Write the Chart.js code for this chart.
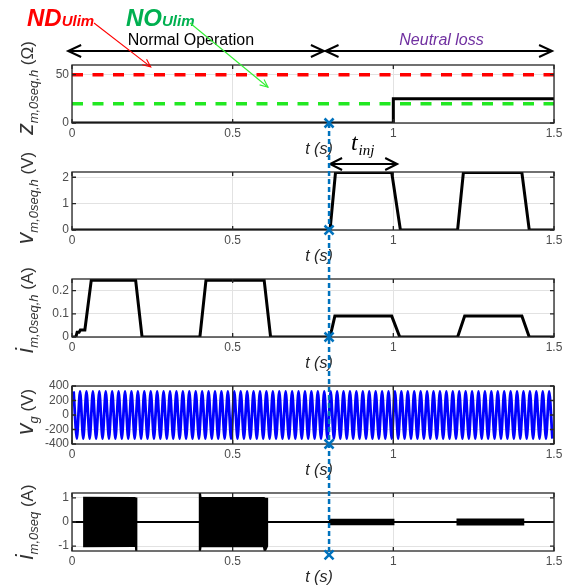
<!DOCTYPE html>
<html>
<head>
<meta charset="utf-8">
<script src="https://cdn.jsdelivr.net/npm/chart.js@4.4.0/dist/chart.umd.min.js"></script>
<style>
  body { margin: 0; background: #fff; width: 572px; height: 587px; position: relative; overflow: hidden; }
  canvas { position: absolute; left: 0; }
</style>
</head>
<body>
<canvas id="c0" width="572" height="163" style="top:0px"></canvas>
<canvas id="c1" width="572" height="118" style="top:152px"></canvas>
<canvas id="c2" width="572" height="118" style="top:259px"></canvas>
<canvas id="c3" width="572" height="118" style="top:366px"></canvas>
<canvas id="c4" width="572" height="118" style="top:473px"></canvas>
<canvas id="overlay" width="572" height="587" style="top:0px"></canvas>
<script>
// time axis
const tTicks = [0, 0.5, 1, 1.5];
const tTickLabels = ['0', '0.5', '1', '1.5'];
const tFault = 0.8;

// z_m,0seq,h (ohm)
const zTime = [0, 1.0, 1.0, 1.5];
const zValue = [0, 0, 25, 25];
const ndUlim = 50;
const noUlim = 20;
const zTicks = [0, 50];
const zTickLabels = ['0', '50'];

// v_m,0seq,h (V)
const vTime = [0, 0.803, 0.82, 0.995, 1.022, 1.2, 1.218, 1.4, 1.423, 1.5];
const vValue = [0, 0, 2.18, 2.18, 0, 0, 2.18, 2.18, 0, 0];
const vTicks = [0, 1, 2];
const vTickLabels = ['0', '1', '2'];

// i_m,0seq,h (A)
const iTime = [0, 0.012, 0.016, 0.022, 0.026, 0.04, 0.06, 0.198, 0.218, 0.398, 0.417, 0.598, 0.618,
               0.803, 0.818, 0.995, 1.02, 1.2, 1.222, 1.4, 1.423, 1.5];
const iValue = [0, 0, 0.02, 0.02, 0.03, 0.03, 0.245, 0.245, 0, 0, 0.245, 0.245, 0,
                0, 0.09, 0.09, 0, 0, 0.09, 0.09, 0, 0];
const iTicks = [0, 0.1, 0.2];
const iTickLabels = ['0', '0.1', '0.2'];

// v_g (V): half-cycle peaks of the grid voltage, one every 10 ms
const vgHalfPeriod = 0.01;
const vgPeaks = [
  325, -325, 325, -325, 325, -325, 325, -325, 325, -325,
  325, -325, 325, -325, 325, -325, 325, -325, 325, -325,
  325, -325, 325, -325, 325, -325, 325, -325, 325, -325,
  325, -325, 325, -325, 325, -325, 325, -325, 325, -325,
  325, -325, 325, -325, 325, -325, 325, -325, 325, -325,
  325, -325, 325, -325, 325, -325, 325, -325, 325, -325,
  325, -325, 325, -325, 325, -325, 325, -325, 325, -325,
  325, -325, 325, -325, 325, -325, 325, -325, 325, -325,
  325, -325, 325, -325, 325, -325, 325, -325, 325, -325,
  325, -325, 325, -325, 325, -325, 325, -325, 325, -325,
  325, -325, 325, -325, 325, -325, 325, -325, 325, -325,
  325, -325, 325, -325, 325, -325, 325, -325, 325, -325,
  325, -325, 325, -325, 325, -325, 325, -325, 325, -325,
  325, -325, 325, -325, 325, -325, 325, -325, 325, -325,
  325, -325, 325, -325, 325, -325, 325, -325, 325, -325
];
const vgTicks = [-400, -200, 0, 200, 400];
const vgTickLabels = ['-400', '-200', '0', '200', '400'];

// i_m,0seq (A): envelope of the fast oscillation
const imTime  = [0, 0.038, 0.038, 0.195, 0.199, 0.2, 0.2, 0.398, 0.398, 0.4, 0.597, 0.6, 0.607, 0.607,
                 0.803, 0.803, 1.0, 1.0, 1.2, 1.2, 1.404, 1.404, 1.5];
const imUpper = [0, 0, 1.0, 0.99, 0.97, 0.97, 0, 0, 1.2, 1.0, 0.99, 0.97, 0.96, 0,
                 0, 0.09, 0.09, 0, 0, 0.1, 0.1, 0, 0];
const imLower = [0, 0, -1.0, -0.99, -0.99, -1.2, 0, 0, -1.2, -1.0, -0.99, -1.2, -0.99, 0,
                 0, -0.09, -0.09, 0, 0, -0.1, -0.1, 0, 0];
const imTicks = [-1, 0, 1];
const imTickLabels = ['-1', '0', '1'];

// fault markers (y value where the X sits on each panel)
const markerValues = [0, 0, 0, -400, -1.36];

const sans = '"Liberation Sans", Arial, Helvetica, sans-serif';
const serif = '"Liberation Serif", "Times New Roman", serif';
const canvasTops = [0, 152, 259, 366, 473];

function points(xs, ys) {
  return xs.map((x, k) => ({ x: x, y: ys[k] }));
}

function lineSet(data, color, width, extra) {
  return Object.assign({
    data: data, borderColor: color, borderWidth: width,
    pointRadius: 0, fill: false, tension: 0
  }, extra || {});
}

const framePlugin = {
  id: 'frame',
  afterDraw(chart, args, opts) {
    const ctx = chart.ctx;
    const a = chart.chartArea;
    const x = chart.scales.x, y = chart.scales.y;
    ctx.save();
    if (opts.darkGrid) {
      ctx.strokeStyle = '#2a2a2a';
      ctx.lineWidth = 1.2;
      ctx.beginPath();
      x.ticks.forEach(t => {
        const p = x.getPixelForValue(t.value);
        ctx.moveTo(p, a.top); ctx.lineTo(p, a.bottom);
      });
      ctx.stroke();
    }
    ctx.strokeStyle = '#262626';
    ctx.lineWidth = 1.3;
    ctx.strokeRect(a.left, a.top, a.width, a.height);
    ctx.beginPath();
    x.ticks.forEach(t => {
      const p = x.getPixelForValue(t.value);
      ctx.moveTo(p, a.bottom); ctx.lineTo(p, a.bottom - 4);
      ctx.moveTo(p, a.top); ctx.lineTo(p, a.top + 4);
    });
    y.ticks.forEach(t => {
      const p = y.getPixelForValue(t.value);
      ctx.moveTo(a.left, p); ctx.lineTo(a.left + 4, p);
      ctx.moveTo(a.right, p); ctx.lineTo(a.right - 4, p);
    });
    ctx.stroke();

    // x title
    ctx.fillStyle = '#262626';
    ctx.font = 'italic 16px ' + sans;
    ctx.textAlign = 'center';
    ctx.textBaseline = 'middle';
    ctx.fillText('t (s)', (a.left + a.right) / 2 + 6, a.bottom + 27);

    // y title with subscript, rotated
    const parts = opts.title;
    const sizes = { main: 23, sub: 13, unit: 17 };
    const shift = { main: 0, sub: 5, unit: 0 };
    ctx.fillStyle = '#333333';
    ctx.textAlign = 'left';
    ctx.textBaseline = 'alphabetic';
    let total = 0;
    parts.forEach(p => {
      ctx.font = (p[1] === 'unit' ? '' : 'italic ') + sizes[p[1]] + 'px ' + sans;
      total += ctx.measureText(p[0]).width;
    });
    ctx.translate(33, (a.top + a.bottom) / 2 + (opts.titleShift || 0));
    ctx.rotate(-Math.PI / 2);
    let pos = -total / 2;
    parts.forEach(p => {
      ctx.font = (p[1] === 'unit' ? '' : 'italic ') + sizes[p[1]] + 'px ' + sans;
      ctx.fillText(p[0], pos, shift[p[1]]);
      pos += ctx.measureText(p[0]).width;
    });
    ctx.restore();
  }
};

function makeChart(index, datasets, yMin, yMax, yTicks, yTickLabels, frame) {
  const padTop = index === 0 ? 65 : 20;
  return new Chart(document.getElementById('c' + index), {
    type: 'line',
    data: { datasets: datasets },
    options: {
      responsive: false,
      animation: false,
      events: [],
      layout: { padding: { top: padTop, right: 18, bottom: 24, left: 0 } },
      plugins: { legend: { display: false }, tooltip: { enabled: false }, frame: frame },
      scales: {
        x: {
          type: 'linear', min: 0, max: 1.5,
          afterBuildTicks: s => { s.ticks = tTicks.map(v => ({ value: v })); },
          afterFit: s => { s.height = 16; },
          ticks: {
            callback: v => tTickLabels[tTicks.indexOf(v)],
            font: { family: sans, size: 12 }, color: '#4d4d4d',
            padding: 3, maxRotation: 0, autoSkip: false
          },
          grid: { color: '#e2e2e2', drawTicks: false },
          border: { display: false }
        },
        y: {
          type: 'linear', min: yMin, max: yMax,
          afterBuildTicks: s => { s.ticks = yTicks.map(v => ({ value: v })); },
          afterFit: s => { s.width = 72; },
          ticks: {
            callback: v => yTickLabels[yTicks.indexOf(v)],
            font: { family: sans, size: 12 }, color: '#4d4d4d',
            padding: 3, autoSkip: false
          },
          grid: { color: '#e2e2e2', drawTicks: false },
          border: { display: false }
        }
      }
    },
    plugins: [framePlugin]
  });
}

const vgTime = vgPeaks.map((v, k) => vgHalfPeriod / 2 + k * vgHalfPeriod);

const charts = [
  makeChart(0, [
    lineSet(points([0, 1.5], [ndUlim, ndUlim]), '#ff0000', 3.5, { borderDash: [11, 9.5] }),
    lineSet(points([0, 1.5], [noUlim, noUlim]), '#22e822', 3.5, { borderDash: [11, 9.5] }),
    lineSet(points(zTime, zValue), '#000000', 3)
  ], 0, 60, zTicks, zTickLabels,
    { title: [['z', 'main'], ['m,0seq,h', 'sub'], [' (\u03A9)', 'unit']], titleShift: -6 }),
  makeChart(1, [
    lineSet(points(vTime, vValue), '#000000', 3)
  ], 0, 2.2, vTicks, vTickLabels,
    { title: [['v', 'main'], ['m,0seq,h', 'sub'], [' (V)', 'unit']], titleShift: -3 }),
  makeChart(2, [
    lineSet(points(iTime, iValue), '#000000', 3)
  ], 0, 0.25, iTicks, iTickLabels,
    { title: [['i', 'main'], ['m,0seq,h', 'sub'], [' (A)', 'unit']], titleShift: 2 }),
  makeChart(3, [
    lineSet(points(vgTime, vgPeaks), '#0000ff', 2.8, { tension: 0.25 })
  ], -400, 400, vgTicks, vgTickLabels,
    { title: [['v', 'main'], ['g', 'sub'], [' (V)', 'unit']], titleShift: -3, darkGrid: true }),
  makeChart(4, [
    lineSet(points(imTime, imUpper), '#000000', 2.2, { fill: '+1', backgroundColor: '#000000' }),
    lineSet(points(imTime, imLower), '#000000', 2.2)
  ], -1.2, 1.2, imTicks, imTickLabels,
    { title: [['i', 'main'], ['m,0seq', 'sub'], [' (A)', 'unit']], titleShift: 0 })
];

function chevron(ctx, tipX, tipY, angle, len, half) {
  const c = Math.cos(angle), s = Math.sin(angle);
  ctx.beginPath();
  ctx.moveTo(tipX - len * c + half * s, tipY - len * s - half * c);
  ctx.lineTo(tipX, tipY);
  ctx.lineTo(tipX - len * c - half * s, tipY - len * s + half * c);
  ctx.stroke();
}

function arrow(ctx, x0, y0, x1, y1, both, len, half) {
  ctx.beginPath();
  ctx.moveTo(x0, y0);
  ctx.lineTo(x1, y1);
  ctx.stroke();
  const ang = Math.atan2(y1 - y0, x1 - x0);
  chevron(ctx, x1, y1, ang, len, half);
  if (both) chevron(ctx, x0, y0, ang + Math.PI, len, half);
}

function drawOverlay() {
  const ctx = document.getElementById('overlay').getContext('2d');
  const xs = charts[0].scales.x;
  const X = v => xs.getPixelForValue(v);
  const Y = (i, v) => canvasTops[i] + charts[i].scales.y.getPixelForValue(v);
  const top1 = canvasTops[0] + charts[0].chartArea.top;
  const top2 = canvasTops[1] + charts[1].chartArea.top;

  ctx.lineCap = 'butt';
  ctx.lineJoin = 'miter';

  // phase arrows
  ctx.strokeStyle = '#000';
  ctx.lineWidth = 2;
  arrow(ctx, X(-0.012), top1 - 14, X(0.784), top1 - 14, true, 13, 6);
  arrow(ctx, X(0.789), top1 - 14, X(1.494), top1 - 14, true, 13, 6);

  ctx.textAlign = 'center';
  ctx.textBaseline = 'middle';
  ctx.fillStyle = '#000';
  ctx.font = '16px ' + sans;
  ctx.fillText('Normal Operation', X(0.37), top1 - 24);
  ctx.fillStyle = '#7030a0';
  ctx.font = 'italic 16px ' + sans;
  ctx.fillText('Neutral loss', X(1.15), top1 - 24);

  // threshold labels
  ctx.textAlign = 'left';
  ctx.textBaseline = 'alphabetic';
  ctx.fillStyle = '#ff0000';
  ctx.font = 'italic bold 24px ' + sans;
  ctx.fillText('ND', 27, 26);
  let w = ctx.measureText('ND').width;
  ctx.font = 'italic bold 15px ' + sans;
  ctx.fillText('Ulim', 27 + w, 26);
  ctx.fillStyle = '#00b050';
  ctx.font = 'italic bold 24px ' + sans;
  ctx.fillText('NO', 126, 26);
  w = ctx.measureText('NO').width;
  ctx.font = 'italic bold 15px ' + sans;
  ctx.fillText('Ulim', 126 + w, 26);

  ctx.lineWidth = 1.1;
  ctx.strokeStyle = '#ff0000';
  arrow(ctx, 94, 23, X(0.245), Y(0, 58), false, 8, 3.5);
  ctx.strokeStyle = '#33ee33';
  arrow(ctx, 190, 23, X(0.61), Y(0, 37), false, 8, 3.5);

  // injection time
  ctx.strokeStyle = '#000';
  ctx.lineWidth = 2;
  arrow(ctx, X(tFault) + 1, top2 - 8, X(1.012), top2 - 8, true, 12, 6);
  ctx.fillStyle = '#000';
  ctx.font = 'italic 24px ' + serif;
  ctx.fillText('t', X(0.868), top2 - 22);
  w = ctx.measureText('t').width;
  ctx.font = 'italic 15px ' + serif;
  ctx.fillText('inj', X(0.868) + w + 1, top2 - 17);

  // fault instant
  const fx = X(tFault);
  ctx.strokeStyle = '#0072bd';
  ctx.lineWidth = 2.5;
  ctx.setLineDash([5, 3]);
  ctx.beginPath();
  ctx.moveTo(fx, Y(0, markerValues[0]));
  ctx.lineTo(fx, Y(4, markerValues[4]));
  ctx.stroke();
  ctx.setLineDash([]);
  ctx.lineWidth = 2.5;
  markerValues.forEach((v, i) => {
    const my = Y(i, v);
    ctx.beginPath();
    ctx.moveTo(fx - 4.5, my - 4.5); ctx.lineTo(fx + 4.5, my + 4.5);
    ctx.moveTo(fx + 4.5, my - 4.5); ctx.lineTo(fx - 4.5, my + 4.5);
    ctx.stroke();
  });
}

drawOverlay();
</script>
</body>
</html>
